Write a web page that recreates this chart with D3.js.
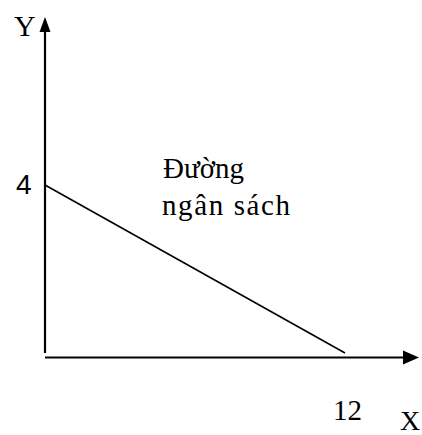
<!DOCTYPE html>
<html><head><meta charset="utf-8">
<script src="https://cdn.jsdelivr.net/npm/d3@7"></script>
<style>html,body{margin:0;padding:0;background:#fff;}svg{display:block;}
.serif{font-family:"Liberation Serif","Times New Roman",serif;}
.sans{font-family:"Liberation Sans",Arial,sans-serif;}
</style>
</head><body>
<script>
const budgetX = [0, 12];
const budgetY = [4, 0];
const xTicks = [12];
const yTicks = [4];
const lineLabel = ["Đường", "ngân sách"];
const axisNames = ["X", "Y"];

const W = 422, H = 435;
const svg = d3.select("body").append("svg").attr("width", W).attr("height", H);
const x = d3.scaleLinear().domain([0, 12]).range([45, 345]);
const y = d3.scaleLinear().domain([0, 4]).range([353, 185]);

// Y axis
svg.append("line").attr("x1", x(0)).attr("x2", x(0)).attr("y1", y(0)).attr("y2", 30)
  .attr("stroke", "#000").attr("stroke-width", 2.2);
svg.append("path").attr("d", `M${x(0)},17 L${x(0)-5.5},32 L${x(0)+5.5},32 Z`).attr("fill", "#000");
// X axis
const xAxisY = y(0) + 4.5;
svg.append("line").attr("x1", x(0)).attr("x2", 405).attr("y1", xAxisY).attr("y2", xAxisY)
  .attr("stroke", "#000").attr("stroke-width", 2.2);
svg.append("path").attr("d", `M419,${xAxisY} L403,${xAxisY-7} L403,${xAxisY+7} Z`).attr("fill", "#000");

// budget line
const pts = budgetX.map((v, i) => [x(v), y(budgetY[i])]);
svg.append("path").attr("d", d3.line()(pts)).attr("stroke", "#000").attr("stroke-width", 1.6).attr("fill", "none");

// tick labels
svg.selectAll(".yt").data(yTicks).enter().append("text").attr("class", "sans")
  .attr("x", 16).attr("y", d => y(d) + 9).text(d => d).attr("font-size", 28);
svg.selectAll(".xt").data(xTicks).enter().append("text").attr("class", "serif")
  .attr("x", d => x(d) - 12).attr("y", 420).text(d => d).attr("font-size", 29);
// axis names
svg.append("text").attr("class", "serif").attr("x", 14).attr("y", 36).text(axisNames[1]).attr("font-size", 30);
svg.append("text").attr("class", "serif").attr("x", 400).attr("y", 430).text(axisNames[0]).attr("font-size", 28);
// line label
svg.append("text").attr("class", "serif").attr("x", 163).attr("y", 178).text(lineLabel[0]).attr("font-size", 29);
svg.append("text").attr("class", "serif").attr("x", 162).attr("y", 215).text(lineLabel[1]).attr("font-size", 29)
  .attr("textLength", 128).attr("lengthAdjust", "spacing");
</script>
</body></html>
